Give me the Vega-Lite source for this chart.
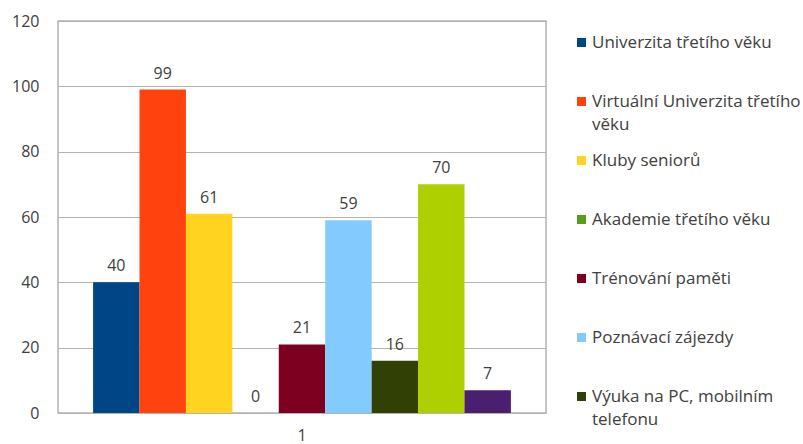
{
  "$schema": "https://vega.github.io/schema/vega-lite/v6.json",
  "width": 488,
  "height": 392,
  "autosize": {"type": "none"},
  "padding": {"left": 58, "top": 21, "right": 257, "bottom": 31},
  "background": "white",
  "config": {
    "font": "Open Sans",
    "view": {"stroke": "#b3b3b3", "strokeWidth": 1.5},
    "style": {"guide-label": {"lineHeight": 23}}
  },
  "data": {
    "values": [
      {"kategorie": "1", "aktivita": "Univerzita třetího věku", "pocet": 40},
      {"kategorie": "1", "aktivita": "Virtuální Univerzita třetího věku", "pocet": 99},
      {"kategorie": "1", "aktivita": "Kluby seniorů", "pocet": 61},
      {"kategorie": "1", "aktivita": "Akademie třetího věku", "pocet": 0},
      {"kategorie": "1", "aktivita": "Trénování paměti", "pocet": 21},
      {"kategorie": "1", "aktivita": "Poznávací zájezdy", "pocet": 59},
      {"kategorie": "1", "aktivita": "Výuka na PC, mobilním telefonu", "pocet": 16},
      {"kategorie": "1", "aktivita": "Pohybové aktivity", "pocet": 70},
      {"kategorie": "1", "aktivita": "Jiné", "pocet": 7}
    ]
  },
  "encoding": {
    "x": {
      "field": "kategorie",
      "type": "nominal",
      "scale": {"paddingInner": 0, "paddingOuter": 0.084},
      "axis": {"title": null, "labelAngle": 0, "ticks": false, "domain": false, "labelFontSize": 16, "labelPadding": 14, "labelColor": "#404040"}
    },
    "xOffset": {
      "field": "aktivita",
      "type": "nominal",
      "sort": null,
      "scale": {"paddingInner": 0, "paddingOuter": 0}
    },
    "y": {
      "field": "pocet",
      "type": "quantitative",
      "scale": {"domain": [0, 120], "nice": false},
      "axis": {"title": null, "values": [0, 20, 40, 60, 80, 100, 120], "ticks": false, "domain": false, "labelFontSize": 16, "labelPadding": 19, "labelColor": "#404040", "gridColor": "#b3b3b3", "gridWidth": 1}
    }
  },
  "layer": [
    {
      "mark": {"type": "bar"},
      "encoding": {
        "color": {
          "field": "aktivita",
          "type": "nominal",
          "scale": {
            "domain": ["Univerzita třetího věku", "Virtuální Univerzita třetího věku", "Kluby seniorů", "Akademie třetího věku", "Trénování paměti", "Poznávací zájezdy", "Výuka na PC, mobilním telefonu", "Pohybové aktivity", "Jiné"],
            "range": ["#004586", "#ff420e", "#ffd320", "#579d1c", "#7e0021", "#83caff", "#314004", "#aecf00", "#4b1f6f"]
          },
          "legend": {
            "title": null,
            "orient": "none",
            "legendX": 515,
            "legendY": 13,
            "padding": 0,
            "values": ["Univerzita třetího věku", "Virtuální Univerzita třetího věku", "Kluby seniorů", "Akademie třetího věku", "Trénování paměti", "Poznávací zájezdy", "Výuka na PC, mobilním telefonu"],
            "symbolType": "square",
            "symbolSize": 81,
            "symbolStrokeWidth": 0,
            "labelFontSize": 17,
            "labelColor": "#404040",
            "labelLimit": 300,
            "labelOffset": 2,
            "rowPadding": 18,
            "labelExpr": "datum.label == 'Virtuální Univerzita třetího věku' ? ['Virtuální Univerzita třetího', 'věku'] : datum.label == 'Výuka na PC, mobilním telefonu' ? ['Výuka na PC, mobilním', 'telefonu'] : [datum.label, ' ']"
          }
        }
      }
    },
    {
      "mark": {"type": "text", "baseline": "bottom", "dy": -8, "fontSize": 16, "color": "#404040"},
      "encoding": {"text": {"field": "pocet", "type": "quantitative"}}
    }
  ]
}
